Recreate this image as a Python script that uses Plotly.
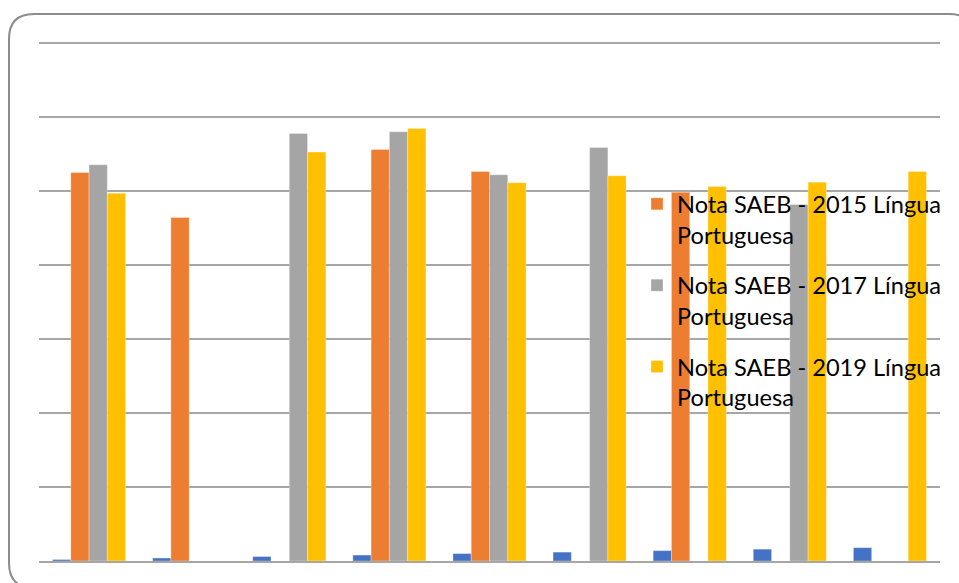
import plotly.graph_objects as go

categories = ["1", "2", "3", "4", "5", "6", "7", "8", "9"]
serie_indice = [1, 2, 3, 4, 5, 6, 7, 8, 9]
saeb_2015 = [262.6, 232.2, None, 278.2, 263.3, None, 249.3, None, None]
saeb_2017 = [267.8, None, 289.0, 290.1, 261.1, 279.5, None, 241.0, None]
saeb_2019 = [248.6, None, 276.4, 292.4, 255.7, 260.4, 253.2, 256.1, 263.3]
grid_vals = [50, 100, 150, 200, 250, 300, 350]

names = ["Nota SAEB - 2015 Língua<br>Portuguesa",
         "Nota SAEB - 2017 Língua<br>Portuguesa",
         "Nota SAEB - 2019 Língua<br>Portuguesa"]
colors = ["#ED7D31", "#A5A5A5", "#FFC000"]

W, H = 959, 583
ML, MR, MT, MB = 39, 19, 41, 22

fig = go.Figure()
fig.add_trace(go.Bar(x=categories, y=serie_indice, name="Série1",
                     marker=dict(color="#4472C4", line=dict(width=0.6, color="rgba(255,255,255,0.5)")),
                     showlegend=False, legendgroup="a"))
for i, (vals, nm, c) in enumerate(zip([saeb_2015, saeb_2017, saeb_2019], names, colors)):
    fig.add_trace(go.Bar(x=categories, y=vals, name=nm,
                         marker=dict(color=c, line=dict(width=0.6, color="rgba(255,255,255,0.5)")),
                         legendgroup="g%d" % i))

pw = W - ML - MR
ph = H - MT - MB

def px(x):
    return (x - ML) / pw

def py(y):
    return (H - MB - y) / ph

# rounded chart border (right and bottom edges lie just outside the visible page)
L, T, R, B, r = 9, 14, 974, 588, 25
path = (f"M {px(L)},{py(T + r)} Q {px(L)},{py(T)} {px(L + r)},{py(T)} "
        f"L {px(R - r)},{py(T)} Q {px(R)},{py(T)} {px(R)},{py(T + r)} "
        f"L {px(R)},{py(B - r)} Q {px(R)},{py(B)} {px(R - r)},{py(B)} "
        f"L {px(L + r)},{py(B)} Q {px(L)},{py(B)} {px(L)},{py(B - r)} Z")

fig.update_layout(
    width=W, height=H,
    margin=dict(l=ML, r=MR, t=MT, b=MB, pad=0, autoexpand=False),
    paper_bgcolor="white", plot_bgcolor="white",
    barmode="group", bargap=0.27, bargroupgap=0,
    font=dict(family="Lato, Open Sans, sans-serif", color="#000000"),
    xaxis=dict(showticklabels=False, showgrid=False, zeroline=False,
               showline=True, linecolor="#A6A6A6", linewidth=1.5, ticks=""),
    yaxis=dict(range=[0, 351.5], tickvals=grid_vals,
               showticklabels=False,
               showgrid=True, gridcolor="#A6A6A6", gridwidth=1.5,
               zeroline=False, ticks=""),
    legend=dict(x=px(637), xanchor="left", y=py(182), yanchor="top",
                bgcolor="rgba(0,0,0,0)", font=dict(size=23.6, color="#000000"),
                valign="top", tracegroupgap=17, traceorder="grouped"),
    shapes=[dict(type="path", xref="paper", yref="paper", path=path,
                 line=dict(color="#8C8C8C", width=2), layer="above")],
)

fig.write_html("out.html")
